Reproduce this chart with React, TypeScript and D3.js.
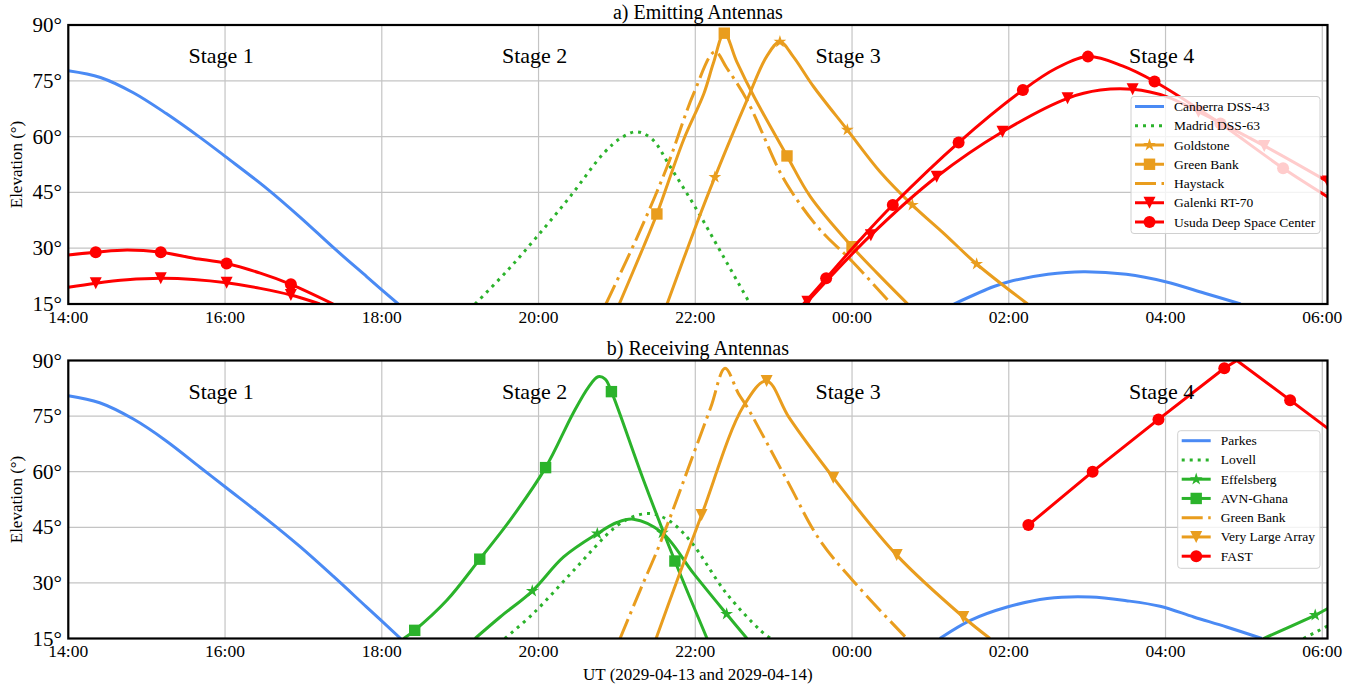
import React from 'react';
import * as d3 from 'd3';

// time axis: hours after 2029-04-13 14:00 UT
const T0 = Date.UTC(2029, 3, 13, 14, 0);
const T_END = Date.UTC(2029, 3, 14, 6, 4);

type Pt = [number, number, number?];

// ---------------- a) Emitting antennas ----------------
const canberra1: Pt[] = [[0, 77.7], [0.41, 75.9], [0.83, 71.8], [1.25, 66.2], [1.68, 59.8], [2.02, 54.4], [2.53, 46.1], [2.96, 38.3], [3.38, 30.2], [3.81, 22.3], [4.21, 15]];
const canberra2: Pt[] = [[11.3, 15], [11.81, 19.7], [12.0, 21.0], [12.5, 23.0], [12.95, 23.7], [13.5, 23.0], [14.0, 21.0], [14.5, 17.9], [14.96, 15]];
const madrid: Pt[] = [[5.19, 15], [5.59, 23.7], [5.98, 33.1], [6.4, 43.8], [6.83, 55.5], [7.05, 59.6], [7.25, 61.3], [7.45, 59.3], [7.68, 51.9], [8.02, 40.3], [8.36, 27.7], [8.7, 15]];
const goldstone: Pt[] = [[7.64, 15], [8.02, 36.7], [8.25, 49.1, 1], [8.66, 69.8], [8.91, 81.5], [9.08, 85.5, 1], [9.25, 81.5], [9.51, 73.4], [9.94, 61.8, 1], [10.36, 50.5], [10.77, 41.6, 1], [11.17, 34.0], [11.59, 25.75, 1], [12.24, 15]];
const greenBankA: Pt[] = [[7.03, 15], [7.34, 30.4], [7.51, 39.2, 1], [7.85, 59.1], [8.11, 71.6], [8.23, 79.7], [8.37, 87.8, 1], [8.53, 80.1], [8.75, 70.7], [9.17, 54.8, 1], [9.47, 43.8], [10.0, 30.4, 1], [10.32, 23.3], [10.71, 15]];
const haystack: Pt[] = [[6.86, 15], [7.3, 34.9], [7.64, 51.9], [7.98, 71.6], [8.25, 82.8], [8.4, 78.5], [8.66, 69.8], [9.08, 50.5], [9.25, 44.5], [9.51, 37.0], [9.68, 33.0], [10.0, 26.5], [10.5, 15]];
const galenki1: Pt[] = [[0, 19.5], [0.35, 20.6, 1], [0.75, 21.5], [1.18, 21.9, 1], [1.6, 21.6], [2.02, 20.7, 1], [2.45, 19.2], [2.84, 17.4, 1], [3.21, 15]];
const galenki2: Pt[] = [[9.43, 15.6, 1], [10.24, 33.5, 1], [11.08, 49.2, 1], [11.92, 61.3, 1], [12.75, 70.3, 1], [13.17, 72.5], [13.58, 72.7, 1], [14.02, 70.7], [14.42, 66.7, 1], [15.26, 57.5, 1], [16.07, 47.9, 1]];
const usuda1: Pt[] = [[0, 28.2], [0.35, 28.9, 1], [0.75, 29.5], [1.18, 28.9, 1], [1.6, 27.3], [2.02, 25.9, 1], [2.45, 23.3], [2.84, 20.3, 1], [3.38, 15]];
const usuda2: Pt[] = [[9.38, 15], [9.67, 21.9, 1], [10.1, 32.2], [10.52, 41.6, 1], [11.36, 58.4, 1], [12.18, 72.5, 1], [12.6, 78.3], [13.01, 81.5, 1], [13.45, 79.0], [13.86, 74.8, 1], [14.7, 63.5, 1], [15.5, 51.5, 1], [16.07, 43.8]];

// ---------------- b) Receiving antennas ----------------
const parkes1: Pt[] = [[0, 80.5], [0.4, 78.6], [0.83, 74.2], [1.25, 68.3], [1.68, 61.2], [2.02, 55.6], [2.53, 47.2], [2.95, 39.9], [3.38, 31.8], [3.8, 23.6], [4.24, 15]];
const parkes2: Pt[] = [[11.12, 15], [11.51, 19.9], [11.98, 23.5], [12.49, 25.8], [13.04, 26.2], [13.5, 25.2], [13.93, 23.7], [14.36, 20.8], [14.78, 18.1], [15.23, 15]];
const lovell1: Pt[] = [[5.57, 15], [5.93, 21.7], [6.45, 33.4], [6.96, 44.7], [7.2, 47.8], [7.42, 48.7], [7.65, 47.0], [7.93, 41.5], [8.4, 27.1], [8.83, 17.2], [8.96, 15]];
const lovell2: Pt[] = [[15.76, 15], [16.07, 18.4]];
const effelsberg1: Pt[] = [[5.19, 15], [5.51, 20.8], [5.92, 27.8, 1], [6.32, 37.0], [6.75, 43.3, 1], [7.0, 46.3], [7.21, 47.2], [7.58, 43.5, 1], [7.98, 32.5], [8.4, 21.6, 1], [8.66, 15]];
const effelsberg2: Pt[] = [[15.25, 15], [15.91, 21.3, 1], [16.07, 23.1]];
const avnGhana: Pt[] = [[4.28, 15], [4.42, 17.2, 1], [4.83, 25.3], [5.25, 36.4, 1], [5.64, 47.0], [6.09, 61.1, 1], [6.44, 75.7], [6.64, 82.9], [6.76, 85.6], [6.85, 85.0], [6.93, 81.6, 1], [7.34, 57.7], [7.74, 35.9, 1], [8.15, 15]];
const greenBankB: Pt[] = [[7.04, 15], [7.3, 28.2], [7.55, 40.6], [7.98, 64.9], [8.2, 77.5], [8.38, 87.9], [8.55, 81.1], [8.66, 77.5], [9.17, 57.7], [9.59, 41.5], [10.1, 28.5], [10.7, 15]];
const vla: Pt[] = [[7.5, 15], [7.76, 30.2], [8.08, 48.3, 1], [8.61, 77.5], [8.91, 84.5, 1], [9.2, 74.5], [9.76, 58.4, 1], [10.57, 37.5, 1], [11.42, 20.8, 1], [11.76, 15]];
const fast: Pt[] = [[12.25, 45.6, 1], [13.07, 60.0, 1], [13.91, 74.1, 1], [14.75, 87.9, 1], [14.91, 90], [15.59, 79.3, 1], [16.07, 71.7]];

const yTicks = [15, 30, 45, 60, 75, 90];
const stageHours = [1.95, 5.95, 9.95, 13.95];
const stageLabels = ['Stage 1', 'Stage 2', 'Stage 3', 'Stage 4'];

const BLUE = '#4a8af4';
const GREEN = '#2bb32b';
const ORANGE = '#e99d1e';
const RED = '#ff0000';

type Series = { name: string; color: string; dash: 'solid' | 'dot' | 'dashdot'; marker: string | null; segs: Pt[][]; linear?: boolean };

const emitting: Series[] = [
  { name: 'Canberra DSS-43', color: BLUE, dash: 'solid', marker: null, segs: [canberra1, canberra2] },
  { name: 'Madrid DSS-63', color: GREEN, dash: 'dot', marker: null, segs: [madrid] },
  { name: 'Goldstone', color: ORANGE, dash: 'solid', marker: '*', segs: [goldstone] },
  { name: 'Green Bank', color: ORANGE, dash: 'solid', marker: 's', segs: [greenBankA] },
  { name: 'Haystack', color: ORANGE, dash: 'dashdot', marker: null, segs: [haystack] },
  { name: 'Galenki RT-70', color: RED, dash: 'solid', marker: 'v', segs: [galenki1, galenki2] },
  { name: 'Usuda Deep Space Center', color: RED, dash: 'solid', marker: 'o', segs: [usuda1, usuda2] },
];

const receiving: Series[] = [
  { name: 'Parkes', color: BLUE, dash: 'solid', marker: null, segs: [parkes1, parkes2] },
  { name: 'Lovell', color: GREEN, dash: 'dot', marker: null, segs: [lovell1, lovell2] },
  { name: 'Effelsberg', color: GREEN, dash: 'solid', marker: '*', segs: [effelsberg1, effelsberg2] },
  { name: 'AVN-Ghana', color: GREEN, dash: 'solid', marker: 's', segs: [avnGhana] },
  { name: 'Green Bank', color: ORANGE, dash: 'dashdot', marker: null, segs: [greenBankB] },
  { name: 'Very Large Array', color: ORANGE, dash: 'solid', marker: 'v', segs: [vla] },
  { name: 'FAST', color: RED, dash: 'solid', marker: 'o', segs: [fast], linear: true },
];

const FONT = "'Liberation Serif', 'Times New Roman', Times, serif";
const LEFT = 68.3;
const RIGHT = 1327.5;
const LW = 3;
const DASH: Record<string, string | undefined> = { solid: undefined, dot: '3,5', dashdot: '21,5.5,3,5.5' };

const toDate = (h: number) => new Date(T0 + h * 3600e3);

function starPath(cx: number, cy: number, R: number) {
  const r = R * 0.381966;
  const pts: string[] = [];
  for (let i = 0; i < 10; i++) {
    const a = -Math.PI / 2 + (i * Math.PI) / 5;
    const rr = i % 2 === 0 ? R : r;
    pts.push(`${cx + rr * Math.cos(a)},${cy + rr * Math.sin(a)}`);
  }
  return 'M' + pts.join('L') + 'Z';
}

function Marker({ type, cx, cy, color }: { type: string; cx: number; cy: number; color: string }) {
  if (type === 'o') return <circle cx={cx} cy={cy} r={6} fill={color} />;
  if (type === 's') return <rect x={cx - 5.7} y={cy - 5.7} width={11.4} height={11.4} fill={color} />;
  if (type === 'v') return <path d={`M${cx - 6},${cy - 6}L${cx + 6},${cy - 6}L${cx},${cy + 6}Z`} fill={color} />;
  if (type === '*') return <path d={starPath(cx, cy, 6.7)} fill={color} />;
  return null;
}

type PanelProps = {
  id: string; top: number; bottom: number; title: string; series: Series[];
  legend: { x: number; y: number; w: number; h: number };
};

function Panel({ id, top, bottom, title, series, legend }: PanelProps) {
  const x = d3.scaleUtc().domain([new Date(T0), new Date(T_END)]).range([LEFT, RIGHT]);
  const y = d3.scaleLinear().domain([15, 90]).range([bottom, top]);
  const xTicks = x.ticks(d3.utcHour.every(2) as any);
  const fmt = d3.utcFormat('%H:%M');
  const smooth = d3.line<Pt>().x(d => x(toDate(d[0]))).y(d => y(d[1])).curve(d3.curveCatmullRom.alpha(0.5));
  const straight = d3.line<Pt>().x(d => x(toDate(d[0]))).y(d => y(d[1])).curve(d3.curveLinear);
  const midY = (top + bottom) / 2;
  const rowH = 19.25;
  return (
    <g>
      <defs>
        <clipPath id={`clip-${id}`}>
          <rect x={LEFT} y={top} width={RIGHT - LEFT} height={bottom - top} />
        </clipPath>
      </defs>
      {xTicks.map((t, i) => (
        <line key={`gx${i}`} x1={x(t)} x2={x(t)} y1={top} y2={bottom} stroke="#c4c4c4" strokeWidth={1.2} />
      ))}
      {yTicks.map((v, i) => (
        <line key={`gy${i}`} x1={LEFT} x2={RIGHT} y1={y(v)} y2={y(v)} stroke="#c4c4c4" strokeWidth={1.2} />
      ))}
      <g clipPath={`url(#clip-${id})`}>
        {series.map((s, si) => (
          <g key={si}>
            {s.segs.map((seg, k) => (
              <path key={k} d={(s.linear ? straight : smooth)(seg) || ''} fill="none" stroke={s.color}
                strokeWidth={LW} strokeDasharray={DASH[s.dash]} strokeLinejoin="round" />
            ))}
            {s.marker && s.segs.map(seg => seg.filter(p => p[2])).flat().map((p, k) => (
              <Marker key={`m${k}`} type={s.marker as string} cx={x(toDate(p[0]))} cy={y(p[1])} color={s.color} />
            ))}
          </g>
        ))}
      </g>
      {stageHours.map((h, i) => (
        <text key={`st${i}`} x={x(toDate(h))} y={top + 38} textAnchor="middle" fontFamily={FONT} fontSize={22} fill="#000">
          {stageLabels[i]}
        </text>
      ))}
      <rect x={LEFT} y={top} width={RIGHT - LEFT} height={bottom - top} fill="none" stroke="#000" strokeWidth={2.2} />
      {xTicks.map((t, i) => (
        <text key={`tx${i}`} x={x(t)} y={bottom + 18.5} textAnchor="middle" fontFamily={FONT} fontSize={17.5} fill="#000">
          {fmt(t)}
        </text>
      ))}
      {yTicks.map((v, i) => (
        <text key={`ty${i}`} x={62} y={y(v)} textAnchor="end" dominantBaseline="central" fontFamily={FONT} fontSize={21} fill="#000">
          {`${v}°`}
        </text>
      ))}
      <text x={(LEFT + RIGHT) / 2} y={top - 6} textAnchor="middle" fontFamily={FONT} fontSize={20} fill="#000">{title}</text>
      <text transform={`translate(22,${midY}) rotate(-90)`} textAnchor="middle" fontFamily={FONT} fontSize={17} fill="#000">
        Elevation (°)
      </text>
      <g>
        <rect x={legend.x} y={legend.y} width={legend.w} height={legend.h} rx={3} fill="#fff" fillOpacity={0.8} stroke="#d0d0d0" strokeWidth={1} />
        {series.map((s, i) => {
          const cy = legend.y + 10 + i * rowH;
          const x0 = legend.x + 4;
          const x1 = legend.x + 33;
          return (
            <g key={`lg${i}`}>
              <line x1={x0} x2={x1} y1={cy} y2={cy} stroke={s.color} strokeWidth={LW} strokeDasharray={DASH[s.dash]} />
              {s.marker && <Marker type={s.marker} cx={(x0 + x1) / 2} cy={cy} color={s.color} />}
              <text x={legend.x + 43} y={cy} dominantBaseline="central" fontFamily={FONT} fontSize={13.5} fill="#000">{s.name}</text>
            </g>
          );
        })}
      </g>
    </g>
  );
}

export default function App() {
  return (
    <svg width={1363} height={686} style={{ position: 'absolute', left: 0, top: 0, display: 'block', background: '#fff' }}>
      <rect x={0} y={0} width={1363} height={686} fill="#fff" />
      <Panel id="a" top={25} bottom={304} title="a) Emitting Antennas" series={emitting}
        legend={{ x: 1131, y: 96.5, w: 189, h: 137 }} />
      <Panel id="b" top={360.5} bottom={638.5} title="b) Receiving Antennas" series={receiving}
        legend={{ x: 1177.7, y: 430.7, w: 142.3, h: 137.6 }} />
      <text x={(LEFT + RIGHT) / 2} y={680} textAnchor="middle" fontFamily={FONT} fontSize={17} fill="#000">
        UT (2029-04-13 and 2029-04-14)
      </text>
    </svg>
  );
}
